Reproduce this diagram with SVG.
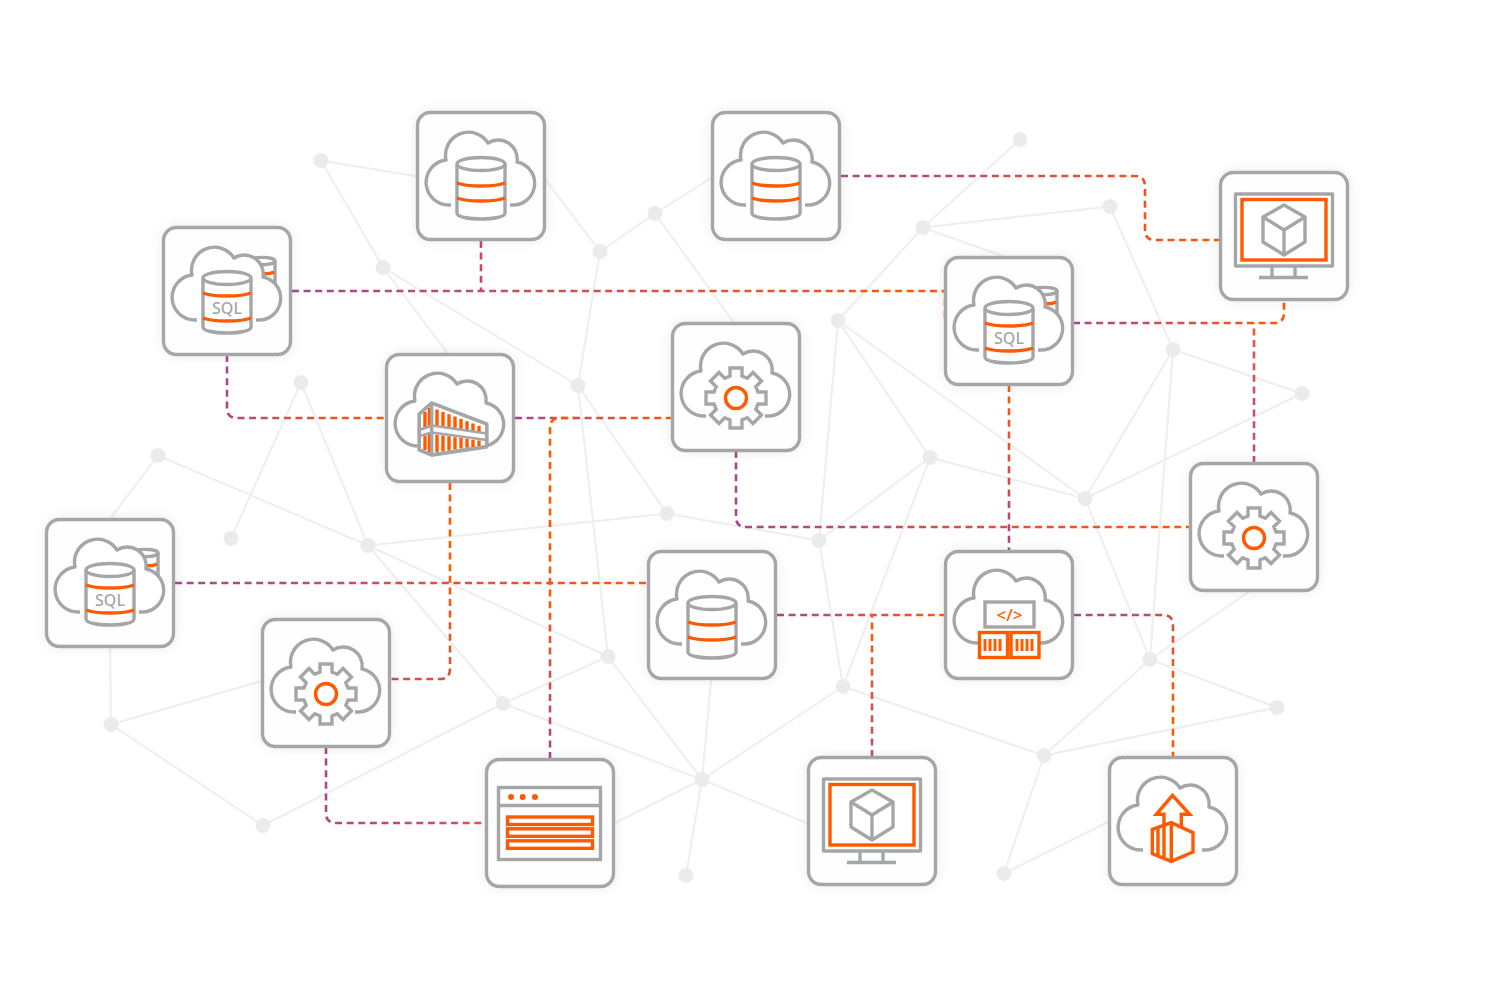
<svg xmlns="http://www.w3.org/2000/svg" xmlns:xlink="http://www.w3.org/1999/xlink" width="1488" height="1000" viewBox="0 0 1488 1000">
<style>
.g{fill:none;stroke:#a5a6a8;stroke-width:3.400;stroke-linejoin:round;stroke-linecap:butt}
.gw{fill:#fff;stroke:#a5a6a8;stroke-width:3.400;stroke-linejoin:round}
.gm{fill:#fff;stroke:#a5a6a8;stroke-width:3.400;stroke-linejoin:miter}
.o{fill:none;stroke:#ff5a00;stroke-width:3.400;stroke-linejoin:miter}
.ow{fill:#fff;stroke:#ff5a00;stroke-width:3.400;stroke-linejoin:miter}
.of{fill:#ff5a00}
.box{fill:#fefefe;stroke:#a5a6a8;stroke-width:3.400;filter:url(#sh)}
.net line{stroke:#eeeeee;stroke-width:2}
.net circle{fill:#ebebeb}
.c path{fill:none;stroke-width:2.600;stroke-dasharray:7 4.600}
.sql{font-family:"Noto Sans","Liberation Sans",sans-serif;font-size:16px;font-weight:500;fill:#a5a6a8;text-anchor:middle}
.code{font-family:"Noto Sans","Liberation Sans",sans-serif;font-size:17px;font-weight:500;fill:#ff5a00;text-anchor:middle}
</style>
<defs>
<filter id="sh" x="-20%" y="-20%" width="140%" height="140%"><feDropShadow dx="0" dy="0" stdDeviation="6" flood-color="#000" flood-opacity="0.08"/></filter>
<linearGradient id="c1" gradientUnits="userSpaceOnUse" x1="291" y1="0" x2="945" y2="0"><stop offset="0" stop-color="#a9458f"/><stop offset="1" stop-color="#ff5a00"/></linearGradient>
<linearGradient id="c3" gradientUnits="userSpaceOnUse" x1="841" y1="0" x2="1220" y2="0"><stop offset="0" stop-color="#a9458f"/><stop offset="1" stop-color="#ff5a00"/></linearGradient>
<linearGradient id="c4" gradientUnits="userSpaceOnUse" x1="227" y1="355" x2="386" y2="418"><stop offset="0" stop-color="#a9458f"/><stop offset="1" stop-color="#ff5a00"/></linearGradient>
<linearGradient id="c5" gradientUnits="userSpaceOnUse" x1="515" y1="0" x2="672" y2="0"><stop offset="0" stop-color="#a9458f"/><stop offset="1" stop-color="#ff5a00"/></linearGradient>
<linearGradient id="c6" gradientUnits="userSpaceOnUse" x1="0" y1="759" x2="0" y2="418"><stop offset="0" stop-color="#a9458f"/><stop offset="0.5" stop-color="#ff5a00"/></linearGradient>
<linearGradient id="c7" gradientUnits="userSpaceOnUse" x1="392" y1="679" x2="450" y2="483"><stop offset="0" stop-color="#d04f50"/><stop offset="0.5" stop-color="#ff5a00"/></linearGradient>
<linearGradient id="c8" gradientUnits="userSpaceOnUse" x1="175" y1="0" x2="648" y2="0"><stop offset="0" stop-color="#a9458f"/><stop offset="1" stop-color="#ff5a00"/></linearGradient>
<linearGradient id="c9" gradientUnits="userSpaceOnUse" x1="736" y1="451" x2="1190" y2="527"><stop offset="0" stop-color="#a9458f"/><stop offset="1" stop-color="#ff5a00"/></linearGradient>
<linearGradient id="c10" gradientUnits="userSpaceOnUse" x1="0" y1="551" x2="0" y2="385"><stop offset="0" stop-color="#a9458f"/><stop offset="1" stop-color="#ff5a00"/></linearGradient>
<linearGradient id="c11" gradientUnits="userSpaceOnUse" x1="1073" y1="0" x2="1284" y2="0"><stop offset="0" stop-color="#a9458f"/><stop offset="1" stop-color="#ff5a00"/></linearGradient>
<linearGradient id="c12" gradientUnits="userSpaceOnUse" x1="0" y1="463" x2="0" y2="323"><stop offset="0" stop-color="#b84880"/><stop offset="1" stop-color="#f2553a"/></linearGradient>
<linearGradient id="c13" gradientUnits="userSpaceOnUse" x1="777" y1="0" x2="945" y2="0"><stop offset="0" stop-color="#a9458f"/><stop offset="1" stop-color="#ff5a00"/></linearGradient>
<linearGradient id="c14" gradientUnits="userSpaceOnUse" x1="0" y1="757" x2="0" y2="615"><stop offset="0" stop-color="#c24c70"/><stop offset="1" stop-color="#ff5a00"/></linearGradient>
<linearGradient id="c15" gradientUnits="userSpaceOnUse" x1="1074" y1="615" x2="1173" y2="757"><stop offset="0" stop-color="#a9458f"/><stop offset="0.7" stop-color="#ff5a00"/></linearGradient>
<linearGradient id="c16" gradientUnits="userSpaceOnUse" x1="326" y1="747" x2="486" y2="823"><stop offset="0" stop-color="#a9458f"/><stop offset="1" stop-color="#e0504a"/></linearGradient>
<path id="cloud" class="gw" d="M-30 29H-31A22.600 22.600 0 0 1-35-16A23 23 0 0 1 7-33A19 19 0 0 1 36-14A21.700 21.700 0 0 1 31 29H29"/>
<rect id="frame" class="box" x="-63.500" y="-63.500" width="127" height="127" rx="13"/>
<g id="db">
<path class="gw" d="M-24-12V37C-24 45 24 45 24 37V-12"/>
<ellipse class="gw" cx="0" cy="-12" rx="24" ry="6.500"/>
<path class="o" d="M-24 7C-14 11 14 11 24 7M-24 22C-14 26 14 26 24 22"/>
</g>
<g id="sqldb">
<path class="gw" d="M22-30V-4H48V-30"/>
<ellipse class="gw" cx="35" cy="-30" rx="13" ry="3.600"/>
<path class="o" d="M36-17.500C40-17 44-17.500 47-19"/>
<use href="#cloud"/>
<path class="gw" d="M-24-13V36C-24 44 24 44 24 36V-13"/>
<ellipse class="gw" cx="0" cy="-13" rx="24" ry="6.500"/>
<path class="o" d="M-24 2C-14 6 14 6 24 2M-24 27C-14 31 14 31 24 27"/>
</g>
<g id="gear">
<use href="#cloud"/>
<polygon class="gm" transform="translate(0 11)" points="-6,-22 -6,-30 6,-30 6,-22 11.300,-19.800 17,-25.500 25.500,-17 19.800,-11.300 22,-6 30,-6 30,6 22,6 19.800,11.300 25.500,17 17,25.500 11.300,19.800 6,22 6,30 -6,30 -6,22 -11.300,19.800 -17,25.500 -25.500,17 -19.800,11.300 -22,6 -30,6 -30,-6 -22,-6 -19.800,-11.300 -25.500,-17 -17,-25.500 -11.300,-19.800"/>
<circle class="o" cx="0" cy="11" r="10.500"/>
</g>
<g id="monitor">
<path class="g" d="M-12 30V41M11 30V41M-25 41.500H24"/>
<rect class="gw" x="-48.500" y="-42" width="97" height="72"/>
<rect class="ow" x="-42" y="-36.500" width="84" height="60.500"/>
<path class="g" d="M0-31L21-19V6L0 19L-21 6V-19ZM-21-19L0-6L21-19M0-6V19"/>
</g>
</defs>

<rect width="1488" height="1000" fill="#fff"/>

<g id="network" class="net" transform="translate(0 .5)">
<line x1="321" y1="160" x2="430" y2="178"/><line x1="321" y1="160" x2="383" y2="267"/><line x1="383" y1="267" x2="450" y2="356"/><line x1="383" y1="267" x2="578" y2="385"/><line x1="578" y1="385" x2="600" y2="251"/><line x1="600" y1="251" x2="655" y2="213"/><line x1="600" y1="251" x2="540" y2="172"/><line x1="655" y1="213" x2="720" y2="172"/><line x1="655" y1="213" x2="736" y2="325"/><line x1="578" y1="385" x2="667" y2="513"/><line x1="578" y1="385" x2="608" y2="656"/><line x1="301" y1="382" x2="231" y2="538"/><line x1="301" y1="382" x2="368" y2="545"/><line x1="158" y1="455" x2="368" y2="545"/><line x1="158" y1="455" x2="105" y2="525"/><line x1="368" y1="545" x2="667" y2="513"/><line x1="667" y1="513" x2="819" y2="540"/><line x1="368" y1="545" x2="608" y2="656"/><line x1="368" y1="545" x2="503" y2="703"/><line x1="608" y1="656" x2="503" y2="703"/><line x1="503" y1="703" x2="263" y2="825"/><line x1="263" y1="825" x2="111" y2="724"/><line x1="111" y1="724" x2="110" y2="640"/><line x1="111" y1="724" x2="270" y2="678"/><line x1="503" y1="703" x2="702" y2="779"/><line x1="608" y1="656" x2="702" y2="779"/><line x1="702" y1="779" x2="712" y2="670"/><line x1="702" y1="779" x2="686" y2="875"/><line x1="702" y1="779" x2="610" y2="825"/><line x1="702" y1="779" x2="843" y2="686"/><line x1="702" y1="779" x2="815" y2="826"/><line x1="843" y1="686" x2="930" y2="457"/><line x1="843" y1="686" x2="819" y2="540"/><line x1="843" y1="686" x2="1044" y2="755"/><line x1="819" y1="540" x2="838" y2="320"/><line x1="819" y1="540" x2="930" y2="457"/><line x1="838" y1="320" x2="930" y2="457"/><line x1="838" y1="320" x2="923" y2="227"/><line x1="838" y1="320" x2="1085" y2="498"/><line x1="923" y1="227" x2="1020" y2="139"/><line x1="923" y1="227" x2="1110" y2="206"/><line x1="923" y1="227" x2="1015" y2="260"/><line x1="1110" y1="206" x2="1173" y2="349"/><line x1="930" y1="457" x2="1085" y2="498"/><line x1="1085" y1="498" x2="1173" y2="349"/><line x1="1085" y1="498" x2="1302" y2="393"/><line x1="1085" y1="498" x2="1150" y2="659"/><line x1="1173" y1="349" x2="1302" y2="393"/><line x1="1173" y1="349" x2="1150" y2="659"/><line x1="1150" y1="659" x2="1277" y2="707"/><line x1="1150" y1="659" x2="1044" y2="755"/><line x1="1150" y1="659" x2="1258" y2="585"/><line x1="1044" y1="755" x2="1277" y2="707"/><line x1="1044" y1="755" x2="1004" y2="873"/><line x1="1004" y1="873" x2="1115" y2="818"/>
<circle cx="321" cy="160" r="7.500"/><circle cx="383" cy="267" r="7.500"/><circle cx="301" cy="382" r="7.500"/><circle cx="231" cy="538" r="7.500"/><circle cx="158" cy="455" r="7.500"/><circle cx="368" cy="545" r="7.500"/><circle cx="111" cy="724" r="7.500"/><circle cx="263" cy="825" r="7.500"/><circle cx="503" cy="703" r="7.500"/><circle cx="608" cy="656" r="7.500"/><circle cx="578" cy="385" r="7.500"/><circle cx="600" cy="251" r="7.500"/><circle cx="655" cy="213" r="7.500"/><circle cx="667" cy="513" r="7.500"/><circle cx="702" cy="779" r="7.500"/><circle cx="686" cy="875" r="7.500"/><circle cx="843" cy="686" r="7.500"/><circle cx="819" cy="540" r="7.500"/><circle cx="838" cy="320" r="7.500"/><circle cx="923" cy="227" r="7.500"/><circle cx="1020" cy="139" r="7.500"/><circle cx="1110" cy="206" r="7.500"/><circle cx="930" cy="457" r="7.500"/><circle cx="1085" cy="498" r="7.500"/><circle cx="1173" cy="349" r="7.500"/><circle cx="1302" cy="393" r="7.500"/><circle cx="1150" cy="659" r="7.500"/><circle cx="1277" cy="707" r="7.500"/><circle cx="1044" cy="755" r="7.500"/><circle cx="1004" cy="873" r="7.500"/>
</g>

<g id="connectors" class="c">
<path stroke="url(#c1)" d="M292 291H945V322"/>
<path stroke="#c94a62" d="M481 241V291"/>
<path stroke="url(#c3)" d="M841 176H1135Q1145 176 1145 186V230Q1145 240 1155 240H1220"/>
<path stroke="url(#c4)" d="M227 355V408Q227 418 237 418H386"/>
<path stroke="url(#c5)" d="M515 418H672"/>
<path stroke="url(#c6)" d="M550 759V428Q550 418 560 418H575"/>
<path stroke="url(#c7)" d="M450 483V669Q450 679 440 679H391"/>
<path stroke="url(#c8)" d="M175 583H648"/>
<path stroke="url(#c9)" d="M736 451V517Q736 527 746 527H1190"/>
<path stroke="url(#c10)" d="M1009 385V551"/>
<path stroke="url(#c11)" d="M1073 323H1274Q1284 323 1284 313V300"/>
<path stroke="url(#c12)" d="M1254 463V323"/>
<path stroke="url(#c13)" d="M777 615H945"/>
<path stroke="url(#c14)" d="M872 757V615"/>
<path stroke="url(#c15)" d="M1074 615H1163Q1173 615 1173 625V757"/>
<path stroke="url(#c16)" d="M326 747V813Q326 823 336 823H486"/>
</g>

<g id="node-sql-a" transform="translate(227 291)"><use href="#frame"/><use href="#sqldb"/><text class="sql" x="0" y="22.500">SQL</text></g>
<g id="node-db-b" transform="translate(481 176)"><use href="#frame"/><use href="#cloud"/><use href="#db"/></g>
<g id="node-db-c" transform="translate(776 176)"><use href="#frame"/><use href="#cloud"/><use href="#db"/></g>
<g id="node-monitor-d" transform="translate(1284 236)"><use href="#frame"/><use href="#monitor"/></g>
<g id="node-sql-e" transform="translate(1009 321)"><use href="#frame"/><use href="#sqldb"/><text class="sql" x="0" y="22.500">SQL</text></g>
<g id="node-container-f" transform="translate(450 418)"><use href="#frame"/><use href="#cloud" y="-1"/>
<g transform="translate(-450 -418)">
<path class="gw" d="M419.300 414L431.700 403L486.700 424V446.700L431.700 455L419.300 450Z"/>
<path class="o" d="M437 409.600V426M443 412V426.800M449 414.300V427.700M455 416.600V428.500M461 418.900V429.400M467 421.300V430.300M473 423.600V431.200M479 425.900V432M425 412V429M429.500 408V428M437 434.700V452M443 435.500V451.300M449 436.300V450.400M455 437.200V449.500M461 438V448.600M467 438.800V447.800M473 439.700V446.900M479 440.500V446M425 435.500V450M429.500 434V452"/>
<path class="g" style="stroke-width:2.500" d="M419.300 430L431.700 425.500L486.700 433.500M419.300 436L431.700 432.500L486.700 440"/>
<path class="g" d="M431.700 403V455M419.300 414L431.700 403L486.700 424V446.700L431.700 455L419.300 450Z"/>
</g></g>
<g id="node-gear-g" transform="translate(736 387)"><use href="#frame"/><use href="#gear"/></g>
<g id="node-gear-h" transform="translate(1254 527)"><use href="#frame"/><use href="#gear"/></g>
<g id="node-sql-i" transform="translate(110 583)"><use href="#frame"/><use href="#sqldb"/><text class="sql" x="0" y="22.500">SQL</text></g>
<g id="node-db-j" transform="translate(712 615)"><use href="#frame"/><use href="#cloud"/><use href="#db"/></g>
<g id="node-code-k" transform="translate(1009 615)"><use href="#frame"/><use href="#cloud" y="-1"/>
<path class="gw" d="M-1 29H2"/>
<rect class="gm" x="-24" y="-13" width="49" height="25"/>
<text class="code" x="0.500" y="5.500">&lt;/&gt;</text>
<rect class="ow" x="-29.500" y="17.500" width="28" height="25"/>
<rect class="ow" x="2" y="17.500" width="28" height="25"/>
<path class="o" style="stroke-width:3" d="M-24 24V36M-19 24V36M-14 24V36M-9 24V36M8 24V36M13 24V36M18 24V36M23 24V36"/>
</g>
<g id="node-gear-l" transform="translate(326 683)"><use href="#frame"/><use href="#gear"/></g>
<g id="node-window-m" transform="translate(550 823)"><use href="#frame"/>
<rect class="gm" x="-51.500" y="-35.500" width="102" height="72"/>
<path class="g" d="M-51.500-17.500H50.500"/>
<circle class="of" cx="-39" cy="-26" r="3"/><circle class="of" cx="-27.300" cy="-26" r="3"/><circle class="of" cx="-15" cy="-26" r="3"/>
<rect class="ow" x="-42.500" y="-6" width="85" height="7.500"/>
<rect class="ow" x="-42.500" y="5.800" width="85" height="7.500"/>
<rect class="ow" x="-42.500" y="17.800" width="85" height="7.500"/>
</g>
<g id="node-monitor-n" transform="translate(872 821)"><use href="#frame"/><use href="#monitor"/></g>
<g id="node-upload-o" transform="translate(1173 821)"><use href="#frame"/><use href="#cloud"/>
<g transform="translate(-1173 -821)">
<path class="ow" d="M1164 825V814.300H1156.300L1172.500 795.300L1189.700 814.300H1181.300V828"/>
<path class="ow" d="M1152.300 829.300L1171.300 822.700L1193 832.700V852L1171.300 861.300L1152.300 853.700Z"/>
<path class="o" d="M1171.300 822.700V861.300M1158 827.500V856M1164 825.500V858.500"/>
</g></g>
</svg>
